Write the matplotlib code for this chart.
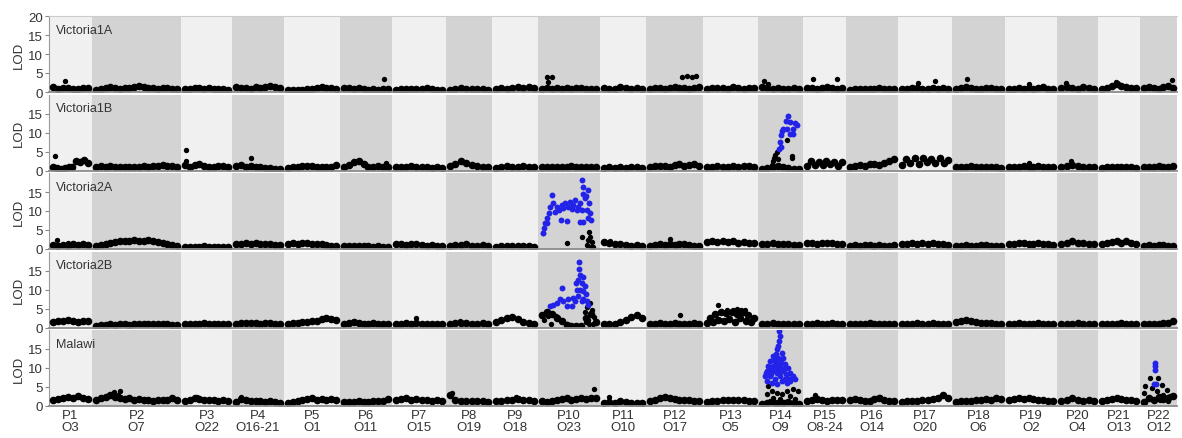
import numpy as np
import matplotlib.pyplot as plt

plt.rcParams['font.family'] = ['Liberation Sans', 'DejaVu Sans']

# linkage groups (P = one map, O = the matching group on the other map)
chrom_p = ['P1', 'P2', 'P3', 'P4', 'P5', 'P6', 'P7', 'P8', 'P9', 'P10', 'P11',
           'P12', 'P13', 'P14', 'P15', 'P16', 'P17', 'P18', 'P19', 'P20', 'P21', 'P22']
chrom_o = ['O3', 'O7', 'O22', 'O16-21', 'O1', 'O11', 'O15', 'O19', 'O18', 'O23', 'O10',
           'O17', 'O5', 'O9', 'O8-24', 'O14', 'O20', 'O6', 'O2', 'O4', 'O13', 'O12']
chrom_len = [35, 81, 43, 44, 48, 44, 46, 38, 38, 54, 38, 49, 47, 37, 35, 44, 46, 45, 44, 33, 34, 29]
pad = 4

panel_names = ['Victoria1A', 'Victoria1B', 'Victoria2A', 'Victoria2B', 'Malawi']

# LOD profile along each linkage group (markers spread over the group)
prof_v1a = [
    [1.3, 0.9, 1.1, 1.0, 0.8, 0.7, 1.0, 1.1],
    [0.6, 0.8, 1.0, 1.2, 1.0, 0.9, 1.1, 1.0, 1.2, 1.5, 1.3, 1.0, 1.1, 0.9, 1.0, 1.1, 0.8, 0.7],
    [0.7, 0.9, 1.1, 1.0, 0.9, 1.1, 0.8, 0.9, 0.7, 0.6],
    [1.2, 1.0, 1.1, 0.9, 1.2, 1.0, 1.4, 1.5, 1.3, 1.1],
    [0.4, 0.5, 0.6, 0.5, 0.7, 0.8, 1.0, 1.2, 1.0, 1.1, 0.8],
    [1.0, 1.1, 0.9, 1.0, 0.7, 0.6, 0.9, 0.6, 0.8, 0.9],
    [0.5, 0.7, 0.8, 0.7, 0.9, 0.8, 1.0, 0.7, 0.6, 0.5],
    [0.6, 0.8, 1.0, 0.9, 0.7, 0.8, 0.9, 0.6],
    [0.9, 1.0, 0.8, 1.1, 1.2, 1.0, 1.3, 1.1],
    [0.8, 1.0, 0.9, 1.0, 0.8, 1.0, 0.9, 1.1, 1.0, 0.8, 0.9, 0.7],
    [1.0, 0.8, 0.9, 1.2, 1.0, 0.9, 1.1, 0.8],
    [0.9, 1.0, 1.1, 0.9, 1.0, 1.2, 1.0, 1.1, 0.9, 1.0, 1.3],
    [0.8, 1.0, 1.1, 1.0, 0.9, 1.2, 1.0, 0.9, 1.1, 1.0],
    [1.2, 1.0, 0.9, 1.1, 0.8, 0.9, 1.0, 0.8],
    [1.0, 1.1, 0.9, 1.0, 1.2, 1.0, 0.9, 1.0],
    [0.6, 0.8, 0.7, 0.9, 0.8, 0.7, 1.0, 0.8, 0.9, 0.7],
    [0.7, 0.9, 1.0, 1.1, 0.9, 0.8, 1.0, 0.9, 1.0, 0.8],
    [0.8, 1.0, 1.2, 1.0, 0.9, 0.8, 1.0, 1.1, 0.9, 0.8],
    [0.7, 0.9, 1.0, 0.8, 1.1, 0.9, 1.0, 1.2, 0.9, 0.8],
    [1.1, 1.3, 1.0, 0.9, 1.2, 1.0, 0.8],
    [0.8, 1.1, 1.6, 2.0, 1.5, 1.2, 1.0, 1.1],
    [1.0, 1.3, 1.1, 0.9, 1.2, 1.5, 1.0],
]
prof_v1b = [
    [1.0, 0.6, 0.5, 0.6, 0.8, 1.0, 2.5, 2.2, 2.8, 2.0],
    [0.9, 1.1, 1.0, 1.2, 0.9, 0.8, 0.9, 1.0, 0.9, 1.0, 1.1, 1.0, 1.2, 1.3, 1.4, 1.2, 1.1, 0.9],
    [1.5, 0.8, 1.4, 1.6, 1.2, 0.9, 1.0, 1.2, 1.1, 0.8],
    [1.2, 1.4, 1.0, 1.1, 0.9, 0.8, 0.7, 0.6, 0.5, 0.5],
    [0.6, 0.8, 1.0, 1.2, 1.3, 1.1, 1.0, 0.9, 0.8, 1.0, 1.5],
    [1.0, 1.5, 2.2, 2.4, 1.8, 1.0, 0.9, 1.2, 0.8, 0.9],
    [0.8, 1.0, 0.9, 1.1, 0.8, 0.9, 1.0, 0.7, 0.8, 0.6],
    [1.2, 1.8, 2.4, 2.0, 1.5, 1.1, 0.9, 0.8],
    [0.7, 0.9, 1.2, 1.0, 0.8, 1.3, 1.0, 0.8],
    [0.8, 0.9, 1.0, 0.8, 0.9, 1.0, 1.1, 0.9, 1.0, 0.8, 0.9, 1.0],
    [0.7, 0.8, 0.6, 0.8, 0.7, 0.9, 0.8, 0.7],
    [0.9, 1.1, 1.3, 1.2, 1.0, 1.4, 1.6, 1.3, 1.5, 1.8, 1.2],
    [0.8, 1.0, 1.1, 0.9, 1.0, 1.2, 1.0, 1.1, 1.3, 1.0],
    [0.5, 0.6, 0.8, 1.2, 0.9, 0.6, 0.5, 0.4],
    [1.2, 2.4, 1.5, 2.2, 1.4, 2.5, 1.6, 2.3, 1.3, 2.2],
    [1.0, 1.2, 1.5, 1.3, 1.8, 1.6, 1.4, 1.9, 2.4, 3.0],
    [1.5, 3.0, 2.0, 3.2, 1.8, 3.4, 2.2, 3.1, 1.9, 3.3, 2.1, 2.8],
    [0.8, 1.0, 0.9, 1.1, 1.0, 0.8, 0.9, 1.0, 0.8, 0.7],
    [0.8, 1.0, 0.9, 1.2, 1.0, 0.9, 1.1, 1.0, 0.8, 0.9],
    [1.0, 1.2, 1.5, 1.2, 1.0, 0.9, 0.8],
    [0.7, 0.9, 1.0, 0.8, 0.9, 1.0, 0.8, 0.7],
    [0.8, 1.0, 0.9, 1.1, 1.0, 0.9, 1.2],
]
prof_v2a = [
    [1.0, 0.8, 1.1, 0.9, 1.2, 1.0, 1.3, 1.1],
    [0.8, 1.0, 1.2, 1.5, 1.8, 2.0, 2.2, 2.1, 2.3, 2.2, 2.0, 2.4, 2.1, 1.8, 1.5, 1.2, 1.0, 0.9],
    [0.4, 0.5, 0.6, 0.5, 0.7, 0.6, 0.5, 0.6, 0.4, 0.5],
    [1.2, 1.4, 1.5, 1.3, 1.6, 1.4, 1.2, 1.3, 1.1, 1.0],
    [1.3, 1.5, 1.4, 1.6, 1.5, 1.3, 1.4, 1.2, 1.0, 0.9, 0.8],
    [0.7, 0.8, 0.9, 0.8, 0.7, 0.8, 0.6, 0.7, 0.6, 0.5],
    [1.2, 1.3, 1.0, 1.4, 1.2, 1.1, 0.9, 1.0, 0.8, 0.9],
    [0.9, 1.1, 1.0, 1.2, 0.9, 0.8, 1.0, 0.9],
    [0.6, 0.8, 0.7, 0.9, 0.8, 0.7, 0.9, 0.6],
    [],
    [1.8, 1.5, 1.2, 1.4, 1.0, 0.9, 1.1, 0.8],
    [0.8, 1.0, 1.2, 1.0, 1.3, 1.1, 1.4, 1.2, 1.0, 0.9, 0.8],
    [1.8, 2.0, 1.9, 2.1, 1.8, 2.0, 1.7, 1.9, 1.6, 1.5],
    [1.2, 1.4, 1.5, 1.3, 1.2, 1.4, 1.1, 1.0],
    [1.5, 1.6, 1.4, 1.5, 1.7, 1.5, 1.3, 1.4],
    [0.8, 1.0, 0.9, 1.1, 1.0, 0.9, 1.0, 0.8, 0.9, 1.0],
    [1.2, 1.4, 1.5, 1.3, 1.6, 1.4, 1.5, 1.3, 1.2, 1.1],
    [0.7, 0.9, 1.0, 0.8, 0.9, 1.0, 1.1, 0.9, 0.8, 0.9],
    [1.2, 1.4, 1.5, 1.6, 1.4, 1.3, 1.5, 1.4, 1.2, 1.1],
    [1.4, 1.6, 2.0, 1.7, 1.5, 1.3, 1.2],
    [1.2, 1.5, 1.8, 2.0, 1.7, 2.1, 1.6, 1.4],
    [0.8, 1.0, 0.9, 1.1, 1.0, 0.9, 0.8],
]
prof_v2b = [
    [1.5, 1.8, 1.6, 2.0, 1.7, 1.5, 1.8, 1.6],
    [0.5, 0.6, 0.7, 0.8, 0.7, 0.9, 0.8, 0.7, 0.9, 0.8, 1.0, 0.9, 0.8, 0.9, 1.0, 0.8, 0.7, 0.6],
    [0.8, 1.0, 0.9, 1.0, 1.1, 0.9, 1.0, 0.8, 0.9, 0.8],
    [1.0, 1.2, 1.1, 1.3, 1.2, 1.0, 1.1, 1.2, 1.0, 0.9],
    [1.0, 1.1, 1.3, 1.4, 1.5, 1.7, 1.8, 2.2, 2.5, 2.3, 2.0],
    [1.0, 1.2, 1.4, 1.1, 1.0, 0.9, 1.1, 1.0, 0.8, 0.9],
    [0.9, 1.0, 1.2, 1.0, 1.1, 0.9, 1.0, 0.8, 0.9, 1.0],
    [1.0, 1.2, 1.1, 1.3, 1.0, 0.9, 1.1, 1.0],
    [1.5, 2.0, 2.6, 2.8, 2.2, 1.5, 1.2, 1.0],
    [3.2, 4.0, 3.5, 2.6, 1.8, 0.6, 0.4, 0.5, 0.4, 2.5, 3.5, 1.5],
    [1.0, 0.8, 1.0, 1.5, 2.0, 2.8, 3.2, 2.5],
    [0.9, 1.0, 1.1, 0.9, 1.0, 1.2, 1.0, 0.9, 1.0, 1.1, 0.8],
    [1.2, 2.6, 1.5, 3.5, 2.0, 4.0, 1.6, 3.8, 2.2, 4.2, 1.4, 3.6, 2.4, 4.0, 1.8, 3.2, 1.5, 2.5],
    [0.8, 1.0, 1.1, 0.9, 1.0, 0.9, 1.0, 0.8],
    [0.9, 1.0, 1.2, 1.0, 0.9, 1.1, 1.0, 0.9],
    [0.8, 0.9, 1.0, 0.9, 1.1, 1.0, 0.9, 1.0, 0.8, 0.9],
    [0.9, 1.0, 0.8, 1.1, 1.0, 0.9, 1.2, 1.0, 0.9, 0.8],
    [1.5, 1.8, 2.0, 1.6, 1.4, 1.2, 1.3, 1.1, 1.0, 0.9],
    [0.9, 1.0, 1.1, 1.0, 0.9, 1.0, 1.1, 0.9, 1.0, 0.8],
    [0.8, 1.0, 0.9, 1.1, 1.0, 0.9, 0.8],
    [0.8, 0.9, 1.0, 0.9, 1.1, 1.0, 0.9, 0.8],
    [0.8, 0.9, 1.0, 0.9, 1.1, 1.3, 1.6],
]
prof_mal = [
    [1.5, 1.8, 2.0, 2.4, 2.2, 2.6, 2.0, 1.8],
    [1.5, 2.0, 2.5, 3.0, 2.5, 2.2, 1.8, 2.0, 1.6, 1.8, 1.5, 1.7, 1.4, 1.6, 1.5, 1.7, 2.0, 1.5],
    [1.2, 1.5, 2.0, 1.8, 1.5, 1.7, 1.6, 1.4, 1.5, 1.3],
    [1.0, 1.8, 1.5, 1.3, 1.2, 1.4, 1.1, 1.2, 1.0, 0.9],
    [0.8, 1.0, 1.2, 1.5, 1.8, 2.0, 1.7, 1.8, 1.6, 1.9, 1.7],
    [1.0, 1.1, 1.0, 1.2, 1.1, 1.0, 1.2, 1.3, 1.4, 1.8],
    [1.6, 1.8, 2.0, 1.7, 1.8, 1.5, 1.6, 1.4, 1.5, 1.3],
    [3.0, 1.5, 1.2, 1.3, 1.2, 1.3, 1.2, 1.1],
    [1.2, 1.4, 1.6, 1.5, 1.8, 1.6, 1.5, 1.3],
    [1.2, 1.0, 1.3, 1.5, 1.8, 2.0, 1.7, 1.9, 2.0, 1.8, 2.2, 2.0],
    [0.8, 1.0, 0.9, 1.2, 1.0, 0.9, 0.8, 0.7],
    [1.2, 1.6, 2.0, 2.5, 2.0, 1.8, 1.6, 1.5, 1.7, 1.4, 1.2],
    [1.0, 1.2, 1.4, 1.5, 1.6, 1.7, 1.5, 1.6, 1.4, 1.3],
    [0.6, 0.8, 1.0, 0.8, 0.9, 1.0, 0.8, 0.6],
    [1.2, 1.5, 1.8, 1.5, 1.4, 1.6, 1.7, 1.5],
    [1.5, 1.8, 1.6, 1.4, 1.2, 1.8, 2.0, 1.5, 1.3, 1.2],
    [1.0, 1.2, 1.4, 1.3, 1.5, 1.6, 1.8, 2.2, 2.8, 2.0],
    [1.0, 1.2, 1.3, 1.4, 1.5, 1.6, 1.8, 1.7, 2.0, 1.8],
    [1.5, 1.8, 2.0, 1.9, 2.0, 1.8, 1.7, 1.5, 1.3, 1.2],
    [1.2, 1.5, 2.0, 1.6, 1.4, 1.5, 1.3],
    [1.2, 1.5, 1.8, 2.2, 1.8, 1.6, 1.5, 1.4],
    [1.0, 2.0, 1.5, 2.5, 1.8, 2.2, 2.6],
]

# single markers sticking out: (group index, position in group, LOD)
extra_v1a = [(0, 12, 2.8), (5, 40, 3.5), (9, 5, 3.9), (9, 10, 3.9), (9, 6, 2.6),
             (11, 32, 4.0), (11, 37, 4.1), (11, 42, 4.0), (11, 46, 4.2), (13, 2, 3.0),
             (13, 6, 2.0), (14, 6, 3.5), (14, 30, 3.5), (16, 16, 2.5), (16, 33, 3.0),
             (17, 11, 3.5), (18, 20, 2.0), (19, 5, 2.5), (20, 14, 2.6), (21, 28, 3.2)]
extra_v1b = [(0, 2, 3.9), (2, 1, 5.5), (2, 1, 2.5), (3, 15, 3.2), (5, 42, 2.0),
             (13, 10, 1.5), (13, 11, 2.5), (13, 12, 3.4), (13, 13, 4.2), (13, 15, 5.0),
             (13, 16, 3.0), (13, 25, 8.0), (13, 30, 3.2), (13, 30, 3.9), (13, 33, 0.5),
             (18, 20, 2.0), (19, 10, 2.5)]
extra_v2a = [(0, 4, 2.4), (0, 15, 1.6), (10, 6, 2.2), (11, 20, 2.6),
             (9, 1, 4.1), (9, 25, 1.7), (9, 40, 3.2), (9, 47, 4.5), (9, 48, 3.2),
             (9, 50, 1.9), (9, 45, 1.0), (9, 51, 0.6), (9, 49, 0.4), (9, 46, 2.5)]
extra_v2b = [(6, 20, 2.5), (7, 10, 1.8), (11, 30, 3.2),
             (9, 2, 2.0), (9, 6, 3.0), (9, 9, 1.0), (9, 14, 3.0), (9, 25, 0.8),
             (9, 37, 0.3), (9, 43, 4.0), (9, 45, 5.5), (9, 46, 2.0), (9, 48, 6.5),
             (9, 50, 4.5), (9, 51, 1.0), (9, 44, 1.5), (9, 47, 0.8), (9, 52, 2.8),
             (12, 11, 5.8), (12, 20, 4.5), (12, 26, 4.7), (12, 30, 4.8), (12, 34, 4.7),
             (12, 38, 4.5), (12, 13, 2.1)]
extra_mal = [(1, 18, 3.8), (1, 24, 4.0), (1, 22, 3.0), (2, 12, 2.5), (3, 5, 2.5),
             (7, 2, 3.5), (8, 20, 2.5), (9, 52, 4.5), (10, 5, 2.5), (14, 8, 3.0),
             (15, 30, 2.5), (16, 40, 3.0),
             (13, 6, 5.3), (13, 10, 3.9), (13, 15, 3.4), (13, 20, 3.2), (13, 25, 3.9),
             (13, 31, 4.5), (13, 36, 3.9), (13, 5, 3.2), (13, 11, 2.1), (13, 18, 1.8),
             (13, 28, 2.6), (13, 33, 1.8), (13, 8, 1.3), (13, 23, 1.0), (13, 13, 0.5),
             (21, 6, 7.4), (21, 14, 7.5), (21, 1, 5.3), (21, 8, 4.7), (21, 18, 5.6),
             (21, 23, 4.3), (21, 19, 3.0), (21, 0, 3.4), (21, 26, 2.6), (21, 13, 3.9),
             (21, 4, 2.1), (21, 16, 1.7), (21, 24, 1.3)]

# markers above the significance threshold (drawn blue)
blue_v1b = [(26, 14.4), (24, 13.0), (28, 12.8), (33, 12.4), (35, 11.9), (21, 10.9),
            (25, 10.9), (20, 10.4), (31, 11.0), (31, 9.7), (19, 9.3), (28, 9.5),
            (18, 7.5), (19, 6.2), (17, 5.6)]
blue_v2a = [(1, 4.1), (2, 5.4), (3, 6.8), (5, 8.1), (7, 9.4), (10, 14.2), (8, 11.1),
            (11, 12.0), (15, 11.1), (17, 10.3), (20, 11.6), (19, 7.6), (25, 7.4),
            (23, 12.0), (28, 12.4), (31, 11.6), (33, 12.9), (36, 11.1), (38, 12.0),
            (38, 7.2), (40, 18.1), (41, 16.4), (41, 14.6), (43, 13.3), (46, 15.5),
            (47, 12.0), (45, 10.3), (48, 9.4), (46, 8.1), (49, 7.6), (35, 10.3),
            (40, 10.3), (21, 10.7), (13, 9.8), (5, 6.9), (41, 7.2), (26, 11.0),
            (30, 10.5), (44, 14.0)]
blue_v2b = [(37, 17.2), (37, 15.3), (38, 13.9), (36, 12.6), (40, 11.8), (43, 10.9),
            (41, 9.6), (38, 10.0), (35, 10.0), (20, 10.4), (36, 8.2), (31, 7.8),
            (26, 7.4), (21, 6.9), (18, 7.4), (15, 6.5), (11, 6.0), (8, 5.6), (41, 7.4),
            (44, 8.7), (45, 6.9), (46, 6.0), (40, 6.9), (34, 11.8), (41, 13.3),
            (30, 5.6), (25, 5.6), (33, 7.0)]
blue_mal_14 = [(17, 19.7), (18, 18.4), (17, 17.1), (16, 15.8), (15, 14.9), (20, 14.0),
               (11, 13.2), (16, 12.7), (21, 12.7), (8, 11.8), (13, 11.8), (18, 11.4),
               (23, 11.0), (6, 10.5), (11, 10.5), (16, 10.1), (26, 10.1), (5, 9.2),
               (10, 9.2), (15, 8.8), (21, 9.2), (28, 8.8), (31, 7.9), (3, 7.9), (8, 7.9),
               (18, 7.9), (25, 7.5), (13, 7.0), (5, 6.6), (20, 6.6), (28, 6.6), (33, 7.0),
               (10, 6.1), (25, 6.1), (15, 5.7), (12, 12.3), (22, 9.8), (9, 8.5),
               (14, 10.8), (19, 10.0), (24, 8.4), (7, 9.8), (12, 9.5), (17, 8.6),
               (23, 7.2), (30, 7.4), (4, 8.6), (14, 13.6), (19, 12.2)]
blue_mal_22 = [(11, 11.3), (11, 10.4), (11, 9.5), (12, 5.9), (10, 5.9)]

profiles = [prof_v1a, prof_v1b, prof_v2a, prof_v2b, prof_mal]
extras = [extra_v1a, extra_v1b, extra_v2a, extra_v2b, extra_mal]
blues = [[], [(13, p, v) for p, v in blue_v1b], [(9, p, v) for p, v in blue_v2a],
         [(9, p, v) for p, v in blue_v2b],
         [(13, p, v) for p, v in blue_mal_14] + [(21, p, v) for p, v in blue_mal_22]]

band_light = '#f0f0f0'
band_dark = '#d3d3d3'
pt_black = '#000000'
pt_blue = '#2222e8'
txt_col = '#333333'

widths = np.array(chrom_len) + 2 * pad
starts = np.concatenate([[0], np.cumsum(widths)[:-1]])
ends = starts + widths
centers = (starts + ends) / 2

W, H = 1182, 439
fig = plt.figure(figsize=(W / 100, H / 100), dpi=100)

for i, name in enumerate(panel_names):
    top = 17 + i * 78.5
    ax = fig.add_axes([49 / W, 1 - (top + 76) / H, 1128 / W, 76 / H])

    for k in range(len(chrom_len)):
        ax.axvspan(starts[k], ends[k], color=band_light if k % 2 == 0 else band_dark,
                   lw=0, zorder=0)

    xs, ys = [], []
    for k, vals in enumerate(profiles[i]):
        if len(vals) == 0:
            continue
        xs.extend(starts[k] + pad + np.linspace(0, chrom_len[k], len(vals)))
        ys.extend(vals)
    ax.scatter(xs, ys, s=30, c=pt_black, linewidths=0, zorder=3)

    ex = [starts[k] + pad + p for k, p, v in extras[i]]
    ey = [v for k, p, v in extras[i]]
    ax.scatter(ex, ey, s=15, c=pt_black, linewidths=0, zorder=3)

    if blues[i]:
        bx = [starts[k] + pad + p for k, p, v in blues[i]]
        by = [v for k, p, v in blues[i]]
        ax.scatter(bx, by, s=18, c=pt_blue, linewidths=0, zorder=4)

    ax.set_xlim(0, ends[-1])
    ax.set_ylim(0, 20)
    ax.set_yticks([0, 5, 10, 15, 20] if i == 0 else [0, 5, 10, 15])
    ax.tick_params(axis='y', colors='#888888', labelcolor=txt_col, labelsize=9.5,
                   length=3, width=0.8, pad=1.5)

    ax.spines['right'].set_visible(False)
    ax.spines['top'].set_visible(i == 0)
    ax.spines['top'].set_color('#cccccc')
    ax.spines['left'].set_color('#999999')
    ax.spines['bottom'].set_color('#8c8c8c')
    ax.spines['bottom'].set_linewidth(1.3)
    ax.spines['bottom'].set_zorder(5)

    ax.set_ylabel('LOD', fontsize=9.5, color=txt_col, labelpad=2)
    ax.text(0.006, 0.9, name, transform=ax.transAxes, fontsize=9, color=txt_col,
            va='top', ha='left')

    if i == len(panel_names) - 1:
        ax.set_xticks(centers)
        ax.set_xticklabels([p + '\n' + o for p, o in zip(chrom_p, chrom_o)],
                           fontsize=9.5, color=txt_col, linespacing=1.05)
        ax.tick_params(axis='x', length=0, pad=2)
    else:
        ax.set_xticks([])

fig.savefig('out.png', dpi=100)
